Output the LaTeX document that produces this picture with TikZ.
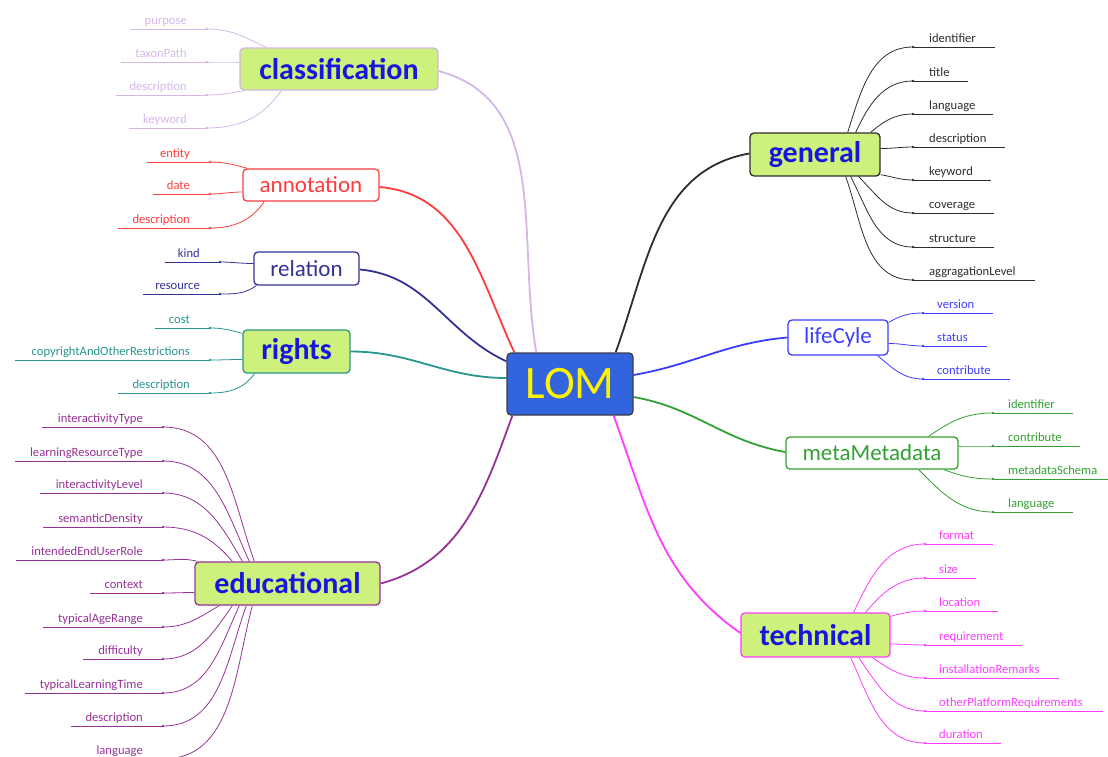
\documentclass[tikz,border=0pt]{standalone}
\usepackage{fontspec}
\setmainfont{Carlito}
\usetikzlibrary{calc,backgrounds}
\definecolor{lgreen}{RGB}{206,240,125}
\definecolor{tblue}{RGB}{22,22,222}
\definecolor{lomblue}{RGB}{50,100,222}
\definecolor{lomborder}{RGB}{60,60,70}
\definecolor{ccls}{RGB}{212,182,232}
\definecolor{cred}{RGB}{255,60,60}
\definecolor{cnavy}{RGB}{50,50,150}
\definecolor{cteal}{RGB}{40,150,140}
\definecolor{cpurp}{RGB}{150,50,150}
\definecolor{cgray}{RGB}{45,45,45}
\definecolor{cblue}{RGB}{60,60,255}
\definecolor{cgreen}{RGB}{50,160,50}
\definecolor{cmag}{RGB}{255,60,255}
\tikzset{
  grp/.style={draw, rounded corners=4pt, line width=1.3pt, inner sep=0pt, align=center},
  hub/.style={grp, fill=lgreen, text=tblue, font=\fontsize{30}{34}\selectfont\bfseries},
  sub/.style={grp, fill=white, font=\fontsize{23}{27}\selectfont},
  leaf/.style={inner sep=0pt, font=\fontsize{12.6}{14}\selectfont},
  leafline/.style={line width=0.8pt},
  conn/.style={line width=1.8pt},
}
% left leaf: name, text, y, xleft, xtextend, xjunction, colour, box point, out angle
\newcommand\lleaf[9]{%
  \coordinate (#1e) at (#4,#3);
  \coordinate (#1j) at (#6,#3);
  \node[leaf,text=#7,anchor=base east] (#1) at (#5,#3-5) {#2};
  \begin{pgfonlayer}{background}
  \draw[leafline,#7] (#1e) -- (#1j);
  \draw[leafline,#7] #8 to[out=#9,in=0] (#1j);
  \end{pgfonlayer}
  \fill[#7] (#1j) circle (1.3);
}
% right leaf: name, text, y, xright, xtextstart, xjunction, colour, box point, out angle
\newcommand\rleaf[9]{%
  \coordinate (#1e) at (#4,#3);
  \coordinate (#1j) at (#6,#3);
  \node[leaf,text=#7,anchor=base west] (#1) at (#5,#3-5) {#2};
  \begin{pgfonlayer}{background}
  \draw[leafline,#7] (#1j) -- (#1e);
  \draw[leafline,#7] #8 to[out=#9,in=180] (#1j);
  \end{pgfonlayer}
  \fill[#7] (#1j) circle (1.3);
}
\begin{document}
\begin{tikzpicture}[x=1pt,y=-1pt]
\clip (0,0) rectangle (1108,756);

% group nodes
\node[grp, fill=lomblue, draw=lomborder, text=yellow, font=\fontsize{46.5}{50}\selectfont,
      minimum width=126pt, minimum height=62pt] (lom) at (570,384) {LOM};
\node[hub, draw=ccls, minimum width=198pt, minimum height=42pt] (cls) at (339,69) {classification};
\node[sub, draw=cred, text=cred, minimum width=136pt, minimum height=32pt] (ann) at (311,185) {annotation};
\node[sub, draw=cnavy, text=cnavy, minimum width=105pt, minimum height=33pt] (rel) at (306.5,268.5) {relation};
\node[hub, draw=cteal, minimum width=107pt, minimum height=43pt] (rig) at (296.5,351.5) {rights};
\node[hub, draw=cpurp, minimum width=185pt, minimum height=43pt] (edu) at (287.5,583.5) {educational};
\node[hub, draw=cgray, minimum width=130pt, minimum height=43pt] (gen) at (815,154.5) {general};
\node[sub, draw=cblue, text=cblue, minimum width=100pt, minimum height=35pt] (lif) at (838,337.5) {lifeCyle};
\node[sub, draw=cgreen, text=cgreen, minimum width=172pt, minimum height=32pt] (met) at (872,453) {metaMetadata};
\node[hub, draw=cmag, minimum width=149pt, minimum height=44pt] (tec) at (815.5,635) {technical};

% main connectors
\begin{pgfonlayer}{background}
\draw[conn,ccls] ($(lom.north west)+(30,0)$) to[out=100,in=-15] ($(cls.east)+(0,2)$);
\draw[conn,cred] ($(lom.north west)+(8,0)$) to[out=115,in=-5] ($(ann.east)+(0,2)$);
\draw[conn,cnavy] ($(lom.north west)+(0,9)$) to[out=155,in=-5] ($(rel.east)+(0,1)$);
\draw[conn,cteal] ($(lom.west)+(0,-6)$) to[out=180,in=0] (rig.east);
\draw[conn,cpurp] ($(lom.south west)+(6,0)$) to[out=250,in=15] (edu.east);
\draw[conn,cgray] ($(lom.north east)+(-18,0)$) to[out=70,in=190] ($(gen.west)+(0,-1)$);
\draw[conn,cblue] ($(lom.east)+(0,-9)$) to[out=10,in=185] (lif.west);
\draw[conn,cgreen] ($(lom.east)+(0,13)$) to[out=-10,in=170] ($(met.west)+(0,-1)$);
\draw[conn,cmag] ($(lom.south east)+(-20,0)$) to[out=-70,in=145] ($(tec.west)+(0,-2)$);
\end{pgfonlayer}

% classification
\lleaf{c1}{purpose}{29}{131}{187}{207}{ccls}{($(cls.north west)+(27,0)$)}{155}
\lleaf{c2}{taxonPath}{62}{121}{187}{207}{ccls}{($(cls.west)+(0,-7)$)}{180}
\lleaf{c3}{description}{95}{116}{187}{207}{ccls}{($(cls.south west)+(5,0)$)}{190}
\lleaf{c4}{keyword}{128}{129}{187}{207}{ccls}{($(cls.south west)+(42,0)$)}{235}

% annotation
\lleaf{a1}{entity}{162}{147}{190}{210}{cred}{($(ann.north west)+(5,0)$)}{165}
\lleaf{a2}{date}{194}{153}{190}{210}{cred}{($(ann.west)+(0,7)$)}{180}
\lleaf{a3}{description}{228}{118}{190}{210}{cred}{($(ann.south west)+(22,0)$)}{235}

% relation
\lleaf{r1}{kind}{262}{165}{200}{220}{cnavy}{($(rel.west)+(0,-5)$)}{180}
\lleaf{r2}{resource}{294}{143}{200}{220}{cnavy}{($(rel.south west)+(3,0)$)}{215}

% rights
\lleaf{g1}{cost}{328}{155}{190}{210}{cteal}{($(rig.north west)+(0,4)$)}{165}
\lleaf{g2}{copyrightAndOtherRestrictions}{360}{15}{190}{210}{cteal}{($(rig.west)+(0,8)$)}{180}
\lleaf{g3}{description}{393}{118}{190}{210}{cteal}{($(rig.south west)+(12,0)$)}{235}

% educational
\lleaf{e1}{interactivityType}{427}{42}{143}{163}{cpurp}{($(edu.north west)+(60,0)$)}{110}
\lleaf{e2}{learningResourceType}{461}{15}{143}{163}{cpurp}{($(edu.north west)+(55,0)$)}{115}
\lleaf{e3}{interactivityLevel}{493}{40}{143}{163}{cpurp}{($(edu.north west)+(48,0)$)}{120}
\lleaf{e4}{semanticDensity}{527}{43}{143}{163}{cpurp}{($(edu.north west)+(38,0)$)}{130}
\lleaf{e5}{intendedEndUserRole}{560}{16}{143}{163}{cpurp}{($(edu.north west)+(3,0)$)}{165}
\lleaf{e6}{context}{593}{90}{143}{163}{cpurp}{($(edu.west)+(0,9)$)}{180}
\lleaf{e7}{typicalAgeRange}{627}{43}{143}{163}{cpurp}{($(edu.south west)+(25,0)$)}{210}
\lleaf{e8}{difficulty}{659}{83}{143}{163}{cpurp}{($(edu.south west)+(38,0)$)}{235}
\lleaf{e9}{typicalLearningTime}{693}{25}{143}{163}{cpurp}{($(edu.south west)+(45,0)$)}{245}
\lleaf{e10}{description}{726}{71}{143}{163}{cpurp}{($(edu.south west)+(52,0)$)}{250}
\lleaf{e11}{language}{759}{55}{143}{163}{cpurp}{($(edu.south west)+(58,0)$)}{255}

% general
\rleaf{n1}{identifier}{47}{995}{929}{913}{cgray}{($(gen.north east)+(-33,0)$)}{72}
\rleaf{n2}{title}{81}{968}{929}{913}{cgray}{($(gen.north east)+(-25,0)$)}{65}
\rleaf{n3}{language}{114}{993}{929}{913}{cgray}{($(gen.north east)+(-10,0)$)}{40}
\rleaf{n4}{description}{147}{1005}{929}{913}{cgray}{($(gen.east)+(0,-6)$)}{0}
\rleaf{n5}{keyword}{180}{991}{929}{913}{cgray}{($(gen.south east)+(0,-2)$)}{-10}
\rleaf{n6}{coverage}{213}{994}{929}{913}{cgray}{($(gen.south east)+(-22,0)$)}{-45}
\rleaf{n7}{structure}{247}{994}{929}{913}{cgray}{($(gen.south east)+(-30,0)$)}{-62}
\rleaf{n8}{aggragationLevel}{280}{1035}{929}{913}{cgray}{($(gen.south east)+(-35,0)$)}{-70}

% lifeCyle
\rleaf{l1}{version}{313}{993}{937}{923}{cblue}{($(lif.north east)+(0,3)$)}{30}
\rleaf{l2}{status}{346}{987}{937}{923}{cblue}{($(lif.east)+(0,6)$)}{0}
\rleaf{l3}{contribute}{379}{1010}{937}{923}{cblue}{($(lif.south east)+(-11,0)$)}{-40}

% metaMetadata
\rleaf{m1}{identifier}{413}{1073}{1008}{993}{cgreen}{($(met.north east)+(-30,0)$)}{35}
\rleaf{m2}{contribute}{446}{1080}{1008}{993}{cgreen}{($(met.east)+(0,-7)$)}{0}
\rleaf{m3}{metadataSchema}{479}{1108}{1008}{993}{cgreen}{($(met.south east)+(-15,0)$)}{-20}
\rleaf{m4}{language}{512}{1073}{1008}{993}{cgreen}{($(met.south east)+(-40,0)$)}{-45}

% technical
\rleaf{t1}{format}{544}{993}{939}{925}{cmag}{($(tec.north east)+(-37,0)$)}{65}
\rleaf{t2}{size}{578}{976}{939}{925}{cmag}{($(tec.north east)+(-25,0)$)}{50}
\rleaf{t3}{location}{611}{998}{939}{925}{cmag}{($(tec.north east)+(0,4)$)}{15}
\rleaf{t4}{requirement}{645}{1022}{939}{925}{cmag}{($(tec.east)+(0,9)$)}{0}
\rleaf{t5}{installationRemarks}{678}{1059}{939}{925}{cmag}{($(tec.south east)+(-18,0)$)}{-35}
\rleaf{t6}{otherPlatformRequirements}{711}{1103}{939}{925}{cmag}{($(tec.south east)+(-32,0)$)}{-55}
\rleaf{t7}{duration}{743}{1001}{939}{925}{cmag}{($(tec.south east)+(-40,0)$)}{-65}
\end{tikzpicture}
\end{document}
